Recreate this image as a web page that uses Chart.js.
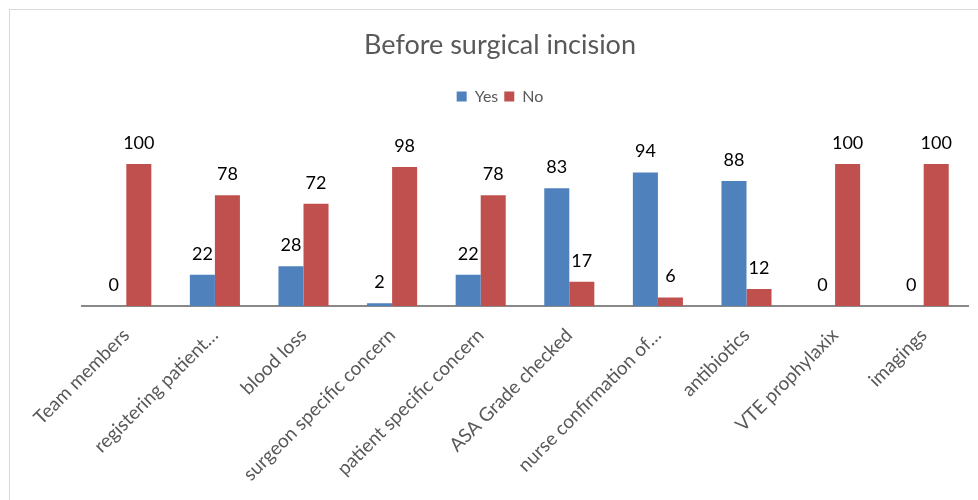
<!DOCTYPE html>
<html>
<head>
<meta charset="utf-8">
<script src="https://cdn.jsdelivr.net/npm/chart.js@4/dist/chart.umd.min.js"></script>
<style>
  html, body { margin: 0; padding: 0; background: #fff; overflow: hidden; }
  #frame { position: absolute; left: 9px; top: 9px; width: 1000px; height: 520px; border: 1px solid #d9d9d9; }
  #wrap { position: absolute; left: 0; top: 0; width: 978px; height: 500px; }
</style>
</head>
<body>
<div id="frame"></div>
<div id="wrap"><canvas id="myChart"></canvas></div>
<script>
const categories = ['Team members', 'registering patient…', 'blood loss', 'surgeon specific concern',
  'patient specific concern', 'ASA Grade checked', 'nurse confirmation of…', 'antibiotics',
  'VTE prophylaxix', 'imagings'];
const yesValues = [0, 22, 28, 2, 22, 83, 94, 88, 0, 0];
const noValues = [100, 78, 72, 98, 78, 17, 6, 12, 100, 100];

const fontFamily = 'Lato, "Liberation Sans", sans-serif';

// value labels above each bar
const barLabels = {
  id: 'barLabels',
  afterDatasetsDraw(chart) {
    const ctx = chart.ctx;
    ctx.save();
    ctx.font = '18px ' + fontFamily;
    ctx.fillStyle = '#000';
    ctx.textAlign = 'center';
    ctx.textBaseline = 'middle';
    chart.data.datasets.forEach((ds, i) => {
      chart.getDatasetMeta(i).data.forEach((bar, j) => {
        ctx.fillText(ds.data[j], bar.x, bar.y - 21);
      });
    });
    ctx.restore();
  }
};

const ctx = document.getElementById('myChart').getContext('2d');
const myChart = new Chart(ctx, {
  type: 'bar',
  data: {
    labels: categories,
    datasets: [{
      label: 'Yes',
      data: yesValues,
      backgroundColor: '#4F81BD',
      borderWidth: 0
    }, {
      label: 'No',
      data: noValues,
      backgroundColor: '#C0504D',
      borderWidth: 0
    }]
  },
  options: {
    responsive: true,
    maintainAspectRatio: false,
    animation: false,
    layout: { padding: { left: 32, right: 10, top: 12, bottom: 0 } },
    datasets: { bar: { categoryPercentage: 0.565, barPercentage: 1 } },
    plugins: {
      title: {
        display: true,
        text: 'Before surgical incision',
        color: '#595959',
        font: { family: fontFamily, size: 27, weight: 'normal' },
        padding: { top: 17, bottom: 21 }
      },
      legend: {
        display: true,
        labels: {
          color: '#595959',
          font: { family: fontFamily, size: 16 },
          boxWidth: 10,
          boxHeight: 10,
          padding: 6
        }
      },
      tooltip: { enabled: false }
    },
    scales: {
      x: {
        grid: { display: false },
        border: { color: '#898989', width: 2 },
        ticks: {
          color: '#595959',
          font: { family: fontFamily, size: 19 },
          minRotation: 45,
          maxRotation: 45,
          autoSkip: false,
          padding: 10
        },
        afterFit(scale) { scale.height = 194; }
      },
      y: {
        min: 0,
        max: 135,
        grid: { display: false },
        border: { display: false },
        ticks: { display: false },
        afterFit(scale) { scale.width = 50; }
      }
    }
  },
  plugins: [barLabels]
});
</script>
</body>
</html>
